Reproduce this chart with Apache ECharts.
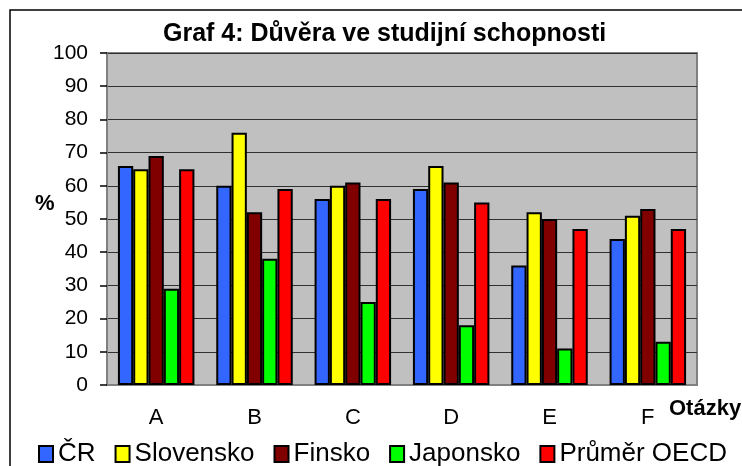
<!DOCTYPE html>
<html lang="cs">
<head>
    <meta charset="UTF-8">
    <title>Graf 4: Důvěra ve studijní schopnosti</title>
    <script src="https://cdn.jsdelivr.net/npm/echarts@6/dist/echarts.min.js"></script>
    <style>
        *{
            padding:0;
            margin:0;
        }
        #graf4{
            width: 742px;
            height: 466px;
        }
    </style>
</head>
<body>
<div id="graf4"></div>
<script type="text/javascript">
    var otazky = ['A', 'B', 'C', 'D', 'E', 'F'];
    var cr = [66, 60, 56, 59, 36, 44];
    var slovensko = [65, 76, 60, 66, 52, 51];
    var finsko = [69, 52, 61, 61, 50, 53];
    var japonsko = [29, 38, 25, 18, 11, 13];
    var oecd = [65, 59, 56, 55, 47, 47];
    var yTicks = [0, 100, 10]; // min, max, krok

    var font = 'Liberation Sans, Arial, sans-serif';

    function serie(name, data, color) {
        return {
            name: name,
            type: 'bar',
            data: data,
            barWidth: 15.3,
            barGap: '0%',
            itemStyle: { color: color, borderColor: '#000', borderWidth: 2 },
            emphasis: { disabled: true }
        };
    }

    var myChart = echarts.init(document.getElementById('graf4'));
    var option = {
        animation: false,
        backgroundColor: '#fff',
        textStyle: { fontFamily: font, color: '#000' },
        graphic: [
            { type: 'rect', shape: { x: 10, y: 10, width: 800, height: 500 },
              style: { fill: 'none', stroke: '#000', lineWidth: 1.5 } },
            { type: 'text', left: 163, top: 22,
              style: { text: 'Graf 4: Důvěra ve studijní schopnosti', font: 'bold 25px ' + font, fill: '#000' } },
            { type: 'text', left: 35, top: 193,
              style: { text: '%', font: 'bold 22px ' + font, fill: '#000' } },
            { type: 'text', left: 669, top: 398,
              style: { text: 'Otázky', font: 'bold 22px ' + font, fill: '#000' } }
        ],
        grid: {
            left: 107, top: 53, width: 590, height: 332,
            show: true, backgroundColor: '#c0c0c0', borderColor: '#808080', borderWidth: 2
        },
        legend: {
            left: 33, top: 436, width: 709,
            itemWidth: 14, itemHeight: 16, itemGap: 19,
            icon: 'rect',
            itemStyle: { borderColor: '#000', borderWidth: 2 },
            textStyle: { fontSize: 26, fontFamily: font, color: '#000' },
            data: ['ČR', 'Slovensko', 'Finsko', 'Japonsko', 'Průměr OECD']
        },
        xAxis: {
            type: 'category',
            data: otazky,
            axisLine: { lineStyle: { color: '#808080', width: 2 } },
            axisTick: { length: 7, lineStyle: { color: '#808080', width: 1.5 } },
            axisLabel: { fontSize: 22, margin: 22, color: '#000', fontFamily: font }
        },
        yAxis: {
            type: 'value',
            min: yTicks[0], max: yTicks[1], interval: yTicks[2],
            axisLine: { show: true, lineStyle: { color: '#808080', width: 2 } },
            axisTick: { show: true, length: 7, lineStyle: { color: '#000', width: 1.5 } },
            axisLabel: { fontSize: 21, margin: 19, color: '#000', fontFamily: font },
            splitLine: { lineStyle: { color: '#303030', width: 1 } }
        },
        series: [
            serie('ČR', cr, '#3366ff'),
            serie('Slovensko', slovensko, '#ffff00'),
            serie('Finsko', finsko, '#800000'),
            serie('Japonsko', japonsko, '#00ff00'),
            serie('Průměr OECD', oecd, '#ff0000')
        ]
    };
    myChart.setOption(option);
</script>
</body>
</html>
